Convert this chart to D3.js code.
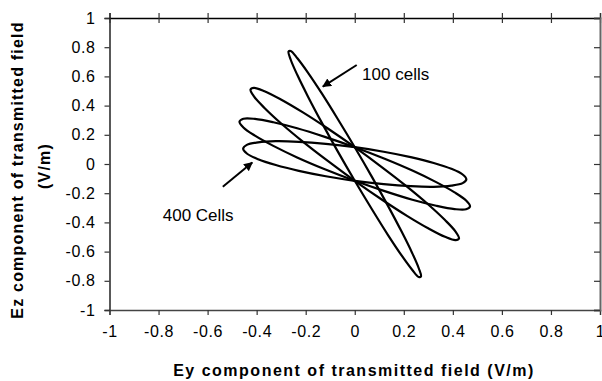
<!DOCTYPE html>
<html>
<head>
<meta charset="utf-8">
<script src="https://cdn.jsdelivr.net/npm/d3@7"></script>
<style>
  body { margin: 0; background: #fff; }
  svg { font-family: "Liberation Sans", Arial, sans-serif; }
</style>
</head>
<body>
<svg id="chart" width="602" height="381"></svg>
<script>
// tick values
const xTicks = [-1, -0.8, -0.6, -0.4, -0.2, 0, 0.2, 0.4, 0.6, 0.8, 1];
const yTicks = [-1, -0.8, -0.6, -0.4, -0.2, 0, 0.2, 0.4, 0.6, 0.8, 1];

// loops (Ey, Ez)
const ey100 = [0, 0.07, 0.135, 0.191, 0.234, 0.261, 0.27, 0.261, 0.234, 0.191, 0.135, 0.07, 0, -0.07, -0.135, -0.191, -0.234, -0.261, -0.27, -0.261, -0.234, -0.191, -0.135, -0.07];
const ez100 = [0.115, -0.088, -0.285, -0.463, -0.609, -0.714, -0.77, -0.774, -0.724, -0.626, -0.485, -0.31, -0.115, 0.088, 0.285, 0.463, 0.609, 0.714, 0.77, 0.774, 0.724, 0.626, 0.485, 0.31];

const ey200 = [0, 0.11, 0.213, 0.301, 0.368, 0.411, 0.425, 0.411, 0.368, 0.301, 0.213, 0.11, 0, -0.11, -0.213, -0.301, -0.368, -0.411, -0.425, -0.411, -0.368, -0.301, -0.213, -0.11];
const ez200 = [0.115, -0.021, -0.155, -0.279, -0.384, -0.463, -0.51, -0.522, -0.499, -0.442, -0.355, -0.243, -0.115, 0.021, 0.155, 0.279, 0.384, 0.463, 0.51, 0.522, 0.499, 0.442, 0.355, 0.243];

const ey300 = [0, 0.122, 0.235, 0.332, 0.407, 0.454, 0.47, 0.454, 0.407, 0.332, 0.235, 0.122, 0, -0.122, -0.235, -0.332, -0.407, -0.454, -0.47, -0.454, -0.407, -0.332, -0.235, -0.122];
const ez300 = [0.115, 0.036, -0.045, -0.124, -0.194, -0.25, -0.29, -0.31, -0.309, -0.286, -0.245, -0.186, -0.115, -0.036, 0.045, 0.124, 0.194, 0.25, 0.29, 0.31, 0.309, 0.286, 0.245, 0.186];

const ey400 = [0, 0.118, 0.228, 0.322, 0.394, 0.44, 0.455, 0.44, 0.394, 0.322, 0.228, 0.118, 0, -0.118, -0.228, -0.322, -0.394, -0.44, -0.455, -0.44, -0.394, -0.322, -0.228, -0.118];
const ez400 = [0.115, 0.084, 0.047, 0.007, -0.033, -0.072, -0.105, -0.131, -0.148, -0.156, -0.152, -0.138, -0.115, -0.084, -0.047, -0.007, 0.033, 0.072, 0.105, 0.131, 0.148, 0.156, 0.152, 0.138];

const loops = [[ey100, ez100], [ey200, ez200], [ey300, ez300], [ey400, ez400]];

// annotations: label, text pos, arrow from, arrow to
const notes = [
  { label: "100 cells", tx: 0.03, ty: 0.575, x1: 0.008, y1: 0.678, x2: -0.13, y2: 0.53 },
  { label: "400 Cells", tx: -0.783, ty: -0.39, x1: -0.538, y1: -0.156, x2: -0.418, y2: 0.01 }
];

const svg = d3.select("#chart");
const x = d3.scaleLinear().domain([-1, 1]).range([109.5, 600]);
const y = d3.scaleLinear().domain([-1, 1]).range([310, 18]);

// eixos
const fmt = d => String(d);

const gl = svg.append("g").attr("transform", `translate(${x(-1)},0)`)
  .call(d3.axisLeft(y).tickValues(yTicks).tickFormat(fmt).tickSize(5).tickPadding(9));
const gb = svg.append("g").attr("transform", `translate(0,${y(-1)})`)
  .call(d3.axisBottom(x).tickValues(xTicks).tickFormat(fmt).tickSize(5).tickPadding(11));
const gt = svg.append("g").attr("transform", `translate(0,${y(1)})`)
  .call(d3.axisTop(x).tickValues(xTicks).tickFormat("").tickSize(5));
gt.selectAll(".tick line").attr("y1", 5).attr("y2", -5);
const gr = svg.append("g").attr("transform", `translate(${x(1)},0)`)
  .call(d3.axisLeft(y).tickValues(yTicks).tickFormat("").tickSize(6));

[gl, gb, gt, gr].forEach(g => {
  g.select(".domain").attr("stroke", "#000").attr("stroke-width", 1.3);
  g.selectAll(".tick line").attr("stroke", "#333").attr("stroke-width", 1.2);
  g.selectAll("text")
    .style("font-size", "16px")
    .style("letter-spacing", "0.6px")
    .style("fill", "#000")
    .style("font-family", "'Liberation Sans', Arial, sans-serif");
});
gr.select(".domain").attr("stroke", "#666").attr("stroke-width", 2);
gb.select(".domain").attr("stroke", "#444");

// titols
svg.append("text")
  .attr("x", 354).attr("y", 376)
  .attr("text-anchor", "middle")
  .style("font-size", "16px").style("font-weight", "bold").style("letter-spacing", "1.5px")
  .text("Ey component of transmitted field (V/m)");

const yt = svg.append("text")
  .attr("transform", "translate(23,170) rotate(-90)")
  .attr("text-anchor", "middle")
  .style("font-size", "16px").style("font-weight", "bold").style("letter-spacing", "1.2px");
yt.append("tspan").attr("x", 0).attr("y", 0).text("Ez component of transmitted field");
yt.append("tspan").attr("x", 4).attr("y", 27).text("(V/m)");

// loops
const line = d3.line()
  .x(d => x(d[0]))
  .y(d => y(d[1]))
  .curve(d3.curveCatmullRomClosed.alpha(0.5));

svg.append("g").selectAll("path")
  .data(loops)
  .enter()
  .append("path")
  .attr("d", l => line(l[0].map((v, i) => [v, l[1][i]])))
  .attr("fill", "none")
  .attr("stroke", "#000")
  .attr("stroke-width", 2.2);

// fletxes
svg.append("defs").append("marker")
  .attr("id", "arr")
  .attr("viewBox", "0 0 10 10")
  .attr("refX", 9).attr("refY", 5)
  .attr("markerWidth", 4.5).attr("markerHeight", 4.5)
  .attr("orient", "auto")
  .append("path").attr("d", "M0,0 L10,5 L0,10 z").attr("fill", "#000");

svg.append("g").selectAll("line")
  .data(notes)
  .enter()
  .append("line")
  .attr("x1", d => x(d.x1)).attr("y1", d => y(d.y1))
  .attr("x2", d => x(d.x2)).attr("y2", d => y(d.y2))
  .attr("stroke", "#000").attr("stroke-width", 2)
  .attr("marker-end", "url(#arr)");

svg.append("g").selectAll("text")
  .data(notes)
  .enter()
  .append("text")
  .attr("x", d => x(d.tx)).attr("y", d => y(d.ty))
  .style("font-size", "17px")
  .text(d => d.label);
</script>
</body>
</html>
